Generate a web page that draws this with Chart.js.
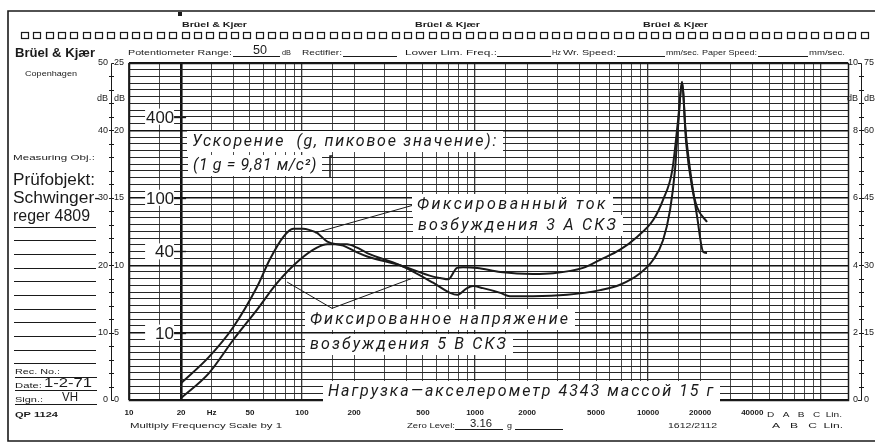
<!DOCTYPE html>
<html lang="ru">
<head>
<meta charset="utf-8">
<title>Schwingerreger 4809</title>
<script src="https://cdn.jsdelivr.net/npm/chart.js"></script>
<style>
  html, body { margin: 0; padding: 0; background: #fff; }
  #chartPaper { display: block; }
</style>
</head>
<body>
<canvas id="chartPaper" width="875" height="447"></canvas>
<script>
// values: frequency in Hz, level in dB (0 dB = 3.16 g)
const currentHz = [20, 29, 40, 55, 65, 78, 89, 101, 111, 122, 140, 173, 208, 238, 368, 572, 628, 700, 787, 853, 1030, 1400, 2160, 2830, 4210, 5280, 6890, 8630, 10700, 12200, 13800, 14900, 15730, 16600, 17950, 19200, 21900];
const currentDb = [2.5, 6.4, 10.8, 16.8, 20.8, 24.2, 25.4, 25.4, 25.2, 24.8, 23.5, 22.9, 21.9, 21.3, 20.0, 18.3, 18.1, 17.9, 19.6, 19.7, 19.6, 19.0, 18.7, 18.8, 19.6, 20.8, 22.3, 24.2, 26.7, 29.7, 34.1, 41.5, 47.0, 38.1, 31.6, 28.6, 26.4];

const voltageHz = [20, 29, 40, 55, 72, 97, 122, 140, 182, 208, 238, 368, 572, 717, 787, 899, 973, 1110, 1400, 1590, 2160, 3400, 5280, 6890, 8990, 10700, 12200, 13400, 14300, 14900, 15730, 16400, 17500, 19200, 20800, 21900];
const voltageDb = [0.3, 4.0, 8.9, 13.4, 17.4, 20.8, 22.6, 23.1, 23.1, 22.6, 21.8, 20.0, 17.4, 15.9, 15.6, 16.6, 16.9, 16.6, 15.9, 15.4, 15.4, 15.6, 16.3, 17.1, 18.8, 20.8, 23.7, 28.2, 34.1, 40.5, 47.2, 40.5, 34.1, 27.2, 22.0, 21.8];

// leader lines of the labels
const currentLeaderHz = [119, 438];
const currentLeaderDb = [24.8, 28.9];
const voltageLeaderHz = [82, 149, 438];
const voltageLeaderDb = [17.5, 13.6, 18.1];

// tick labels
const freqTickValues = [10, 20, 30, 50, 100, 200, 500, 1000, 2000, 5000, 10000, 20000, 40000];
const freqTickTexts = ['10', '20', 'Hz', '50', '100', '200', '500', '1000', '2000', '5000', '10000', '20000', '40000'];
const gridMantissas = [1, 1.5, 2, 3, 4, 5, 6, 7, 8, 9];
const decades = [10, 100, 1000, 10000, 100000];
const dbLabelValues = [50, 40, 30, 20, 10, 0];
const leftOuterTexts = ['50', '40', '30', '20', '10', '0'];
const leftInnerTexts = ['25', '20', '15', '10', '5', '0'];
const rightInnerTexts = ['10', '8', '6', '4', '2', '0'];
const rightOuterTexts = ['75', '60', '45', '30', '15', '0'];
const gTickValues = [400, 100, 40, 10];
const zeroLevelG = 3.16;
const freqMax = 143000;

const gridHz = [];
decades.forEach(d => {
    gridMantissas.forEach(m => {
        const v = m * d;
        if (v <= freqMax) gridHz.push(v);
    });
});

const ink = '#1a1a1a';
const SANS = "'Liberation Sans', 'DejaVu Sans', Arial, sans-serif";
const ITALIC = "italic 16px Roboto, 'Liberation Sans', sans-serif";

function toPoints(xs, ys) {
    return xs.map((x, i) => ({ x: x, y: ys[i] }));
}

// draw text stretched/shrunk to a given width
function fitText(ctx, text, x, y, w, font) {
    ctx.save();
    ctx.font = font;
    ctx.fillStyle = ink;
    ctx.textAlign = 'left';
    ctx.textBaseline = 'alphabetic';
    const m = ctx.measureText(text).width || 1;
    ctx.translate(x, y);
    ctx.scale(w / m, 1);
    ctx.fillText(text, 0, 0);
    ctx.restore();
}

// same, but widen with letter spacing first (typewriter-like labels)
function spacedText(ctx, text, x, y, w, font) {
    ctx.save();
    ctx.font = font;
    ctx.fillStyle = ink;
    ctx.textAlign = 'left';
    ctx.textBaseline = 'alphabetic';
    let m = ctx.measureText(text).width || 1;
    if ('letterSpacing' in ctx) {
        ctx.letterSpacing = ((w - m) / [...text].length).toFixed(2) + 'px';
        m = ctx.measureText(text).width || 1;
    }
    ctx.translate(x, y);
    ctx.scale(w / m, 1);
    ctx.fillText(text, 0, 0);
    ctx.restore();
}

function hline(ctx, x1, x2, y, lw) {
    ctx.lineWidth = lw || 1;
    ctx.beginPath();
    ctx.moveTo(x1, y);
    ctx.lineTo(x2, y);
    ctx.stroke();
}

function boxedLabel(ctx, text, x, y, w) {
    ctx.fillStyle = '#fff';
    ctx.fillRect(x - 5, y - 15, w + 10, 21);
    spacedText(ctx, text, x, y, w, ITALIC);
}

const paperPlugin = {
    id: 'paper',
    beforeDraw(chart) {
        const ctx = chart.ctx;
        const ys = chart.scales.y;
        const W = chart.width;
        ctx.save();
        ctx.fillStyle = '#fff';
        ctx.fillRect(0, 0, W, chart.height);
        ctx.strokeStyle = ink;

        // paper frame
        ctx.lineWidth = 1.6;
        ctx.beginPath();
        ctx.moveTo(W, 11); ctx.lineTo(8, 11); ctx.lineTo(8, 441); ctx.lineTo(W, 441);
        ctx.stroke();
        ctx.fillStyle = ink;
        ctx.fillRect(178, 12, 4, 4);

        // sprocket holes
        ctx.lineWidth = 1.2;
        for (let sx = 25; sx < W - 2; sx += 12.35) {
            ctx.strokeRect(Math.round(sx) - 3.5, 32.5, 7, 6);
        }

        // top header
        [182, 415, 643].forEach(bx => fitText(ctx, 'Brüel & Kjær', bx, 27, 65, 'bold 8px ' + SANS));
        fitText(ctx, 'Brüel & Kjær', 15, 57, 80, 'bold 12px ' + SANS);
        const small = '8px ' + SANS;
        fitText(ctx, 'Potentiometer Range:', 128, 55, 104, small);
        fitText(ctx, '50', 253, 54, 14, '12px ' + SANS);
        hline(ctx, 233, 280, 56.5, 1);
        fitText(ctx, 'dB', 282, 55, 9, small);
        fitText(ctx, 'Rectifier:', 302, 55, 40, small);
        hline(ctx, 343, 397, 56.5, 1);
        fitText(ctx, 'Lower Lim. Freq.:', 405, 55, 92, small);
        hline(ctx, 497, 551, 56.5, 1);
        fitText(ctx, 'Hz', 552, 55, 9, small);
        fitText(ctx, 'Wr. Speed:', 563, 55, 53, small);
        hline(ctx, 617, 665, 56.5, 1);
        fitText(ctx, 'mm/sec.', 666, 55, 33, small);
        fitText(ctx, 'Paper Speed:', 702, 55, 55, small);
        hline(ctx, 758, 808, 56.5, 1);
        fitText(ctx, 'mm/sec.', 809, 55, 36, small);

        // left panel
        fitText(ctx, 'Copenhagen', 25, 76, 52, small);
        fitText(ctx, 'Measuring Obj.:', 13, 160, 82, '7px ' + SANS);
        fitText(ctx, 'Prüfobjekt:', 13, 185, 82, '16px ' + SANS);
        fitText(ctx, 'Schwinger-', 13, 203, 87, '16px ' + SANS);
        fitText(ctx, 'reger 4809', 13, 221, 77, '16px ' + SANS);
        [227, 240, 254, 268, 281, 295, 309, 322, 336, 350, 363].forEach(ly => hline(ctx, 14, 96, ly + 0.5, 1.2));
        fitText(ctx, 'Rec. No.:', 15, 374, 45, small);
        hline(ctx, 15, 97, 377.5, 1);
        fitText(ctx, 'Date:', 15, 388, 27, small);
        fitText(ctx, '1-2-71', 44, 387, 48, '12px ' + SANS);
        hline(ctx, 15, 97, 390.5, 1);
        fitText(ctx, 'Sign.:', 15, 402, 28, small);
        fitText(ctx, 'VH', 62, 401, 16, '12px ' + SANS);
        hline(ctx, 15, 97, 404.5, 1);
        fitText(ctx, 'QP 1124', 15, 417, 43, 'bold 8px ' + SANS);

        // bottom texts
        fitText(ctx, 'Multiply Frequency Scale by 1', 130, 428, 152, small);
        fitText(ctx, 'Zero Level:', 407, 428, 48, small);
        fitText(ctx, zeroLevelG.toFixed(2), 470, 427, 22, '11px ' + SANS);
        hline(ctx, 455, 503, 429.5, 1);
        fitText(ctx, 'g', 507, 428, 5, small);
        hline(ctx, 515, 563, 429.5, 1);
        fitText(ctx, '1612/2112', 668, 428, 49, small);
        fitText(ctx, 'D   A   B   C  Lin.', 767, 417, 75, small);
        fitText(ctx, 'A   B   C  Lin.', 772, 428, 71, small);

        // side scales
        const yTop = ys.getPixelForValue(50);
        const yBot = ys.getPixelForValue(0);
        ctx.lineWidth = 1;
        [[111, 1], [861, -1]].forEach(([sx, dir]) => {
            ctx.beginPath();
            ctx.moveTo(sx + dir * 3, yTop + 0.5); ctx.lineTo(sx + 0.5, yTop + 0.5);
            ctx.lineTo(sx + 0.5, yBot + 0.5); ctx.lineTo(sx + dir * 3, yBot + 0.5);
            ctx.stroke();
            for (let d = 2; d < 50; d += 2) {
                const py = Math.round(ys.getPixelForValue(d)) + 0.5;
                hline(ctx, sx - 2, sx + 3, py, 1);
            }
        });
        ctx.font = '9px ' + SANS;
        ctx.fillStyle = ink;
        ctx.textBaseline = 'middle';
        dbLabelValues.forEach((d, i) => {
            const py = ys.getPixelForValue(d);
            ctx.textAlign = 'right';
            ctx.fillText(leftOuterTexts[i], 108, py);
            ctx.fillText(rightInnerTexts[i], 858, py);
            ctx.textAlign = 'left';
            ctx.fillText(leftInnerTexts[i], 114, py);
            ctx.fillText(rightOuterTexts[i], 864, py);
        });
        ctx.textAlign = 'right';
        ctx.fillText('dB', 108, 99);
        ctx.fillText('dB', 858, 99);
        ctx.textAlign = 'left';
        ctx.fillText('dB', 114, 99);
        ctx.fillText('dB', 864, 99);
        ctx.restore();
    },
    afterDatasetsDraw(chart) {
        const ctx = chart.ctx;
        const xs = chart.scales.x;
        const ys = chart.scales.y;
        const area = chart.chartArea;
        ctx.save();
        ctx.strokeStyle = ink;

        // plot frame
        ctx.lineWidth = 1.5;
        ctx.strokeRect(area.left + 0.5, area.top + 0.5, area.right - area.left, area.bottom - area.top);

        // acceleration scale in g at the 20 Hz line
        const x20 = xs.getPixelForValue(20);
        gTickValues.forEach(g => {
            const py = ys.getPixelForValue(20 * Math.log10(g / zeroLevelG));
            const w = g >= 100 ? 28 : 19;
            ctx.fillStyle = '#fff';
            ctx.fillRect(x20 - 36, py - 8, 29, 16);
            ctx.fillStyle = ink;
            fitText(ctx, String(g), x20 - 7 - w, py + 6, w, '17px ' + SANS);
            hline(ctx, x20 - 7, x20 + 5, Math.round(py) + 0.5, 1.4);
        });

        // annotations
        boxedLabel(ctx, 'Ускорение  (g, пиковое значение):', 192, 146, 306);
        boxedLabel(ctx, '(1 g = 9,81 м/с²)', 193, 170, 124);
        ctx.lineWidth = 1.5;
        ctx.beginPath();
        ctx.moveTo(333, 156); ctx.lineTo(330, 156); ctx.lineTo(330, 178);
        ctx.stroke();
        boxedLabel(ctx, 'Фиксированный ток', 417, 209, 191);
        boxedLabel(ctx, 'возбуждения 3 А СКЗ', 418, 230, 200);
        boxedLabel(ctx, 'Фиксированное напряжение', 310, 324, 260);
        boxedLabel(ctx, 'возбуждения 5 В СКЗ', 310, 349, 198);
        boxedLabel(ctx, 'Нагрузка—акселерометр 4343 массой 15 г', 328, 396, 387);
        ctx.restore();
    }
};

const curveStyle = {
    borderColor: ink,
    borderWidth: 2,
    pointRadius: 0,
    fill: false,
    cubicInterpolationMode: 'monotone'
};

const leaderStyle = {
    borderColor: ink,
    borderWidth: 1,
    pointRadius: 0,
    fill: false,
    tension: 0
};

new Chart(document.getElementById('chartPaper'), {
    type: 'line',
    data: {
        datasets: [
            Object.assign({ label: 'Фиксированный ток возбуждения 3 А СКЗ', data: toPoints(currentHz, currentDb) }, curveStyle),
            Object.assign({ label: 'Фиксированное напряжение возбуждения 5 В СКЗ', data: toPoints(voltageHz, voltageDb) }, curveStyle),
            Object.assign({ label: 'leader current', data: toPoints(currentLeaderHz, currentLeaderDb) }, leaderStyle),
            Object.assign({ label: 'leader voltage', data: toPoints(voltageLeaderHz, voltageLeaderDb) }, leaderStyle)
        ]
    },
    options: {
        responsive: false,
        animation: false,
        events: [],
        layout: { padding: { left: 129, right: 27, top: 63, bottom: 0 } },
        plugins: {
            legend: { display: false },
            tooltip: { enabled: false }
        },
        scales: {
            x: {
                type: 'logarithmic',
                min: 10,
                max: freqMax,
                border: { display: false },
                afterBuildTicks: axis => { axis.ticks = gridHz.map(v => ({ value: v })); },
                afterFit: axis => { axis.height = 47; },
                grid: {
                    drawTicks: false,
                    color: c => (c.tick && c.tick.value === 20) ? '#111' : '#383838',
                    lineWidth: c => {
                        const v = c.tick ? c.tick.value : 0;
                        if (v === 20) return 2.6;
                        return decades.includes(v) ? 1.3 : 0.9;
                    }
                },
                ticks: {
                    autoSkip: false,
                    maxRotation: 0,
                    minRotation: 0,
                    padding: 8,
                    color: ink,
                    font: { family: SANS, size: 8, weight: 'bold' },
                    callback: v => {
                        const i = freqTickValues.indexOf(v);
                        return i < 0 ? '' : freqTickTexts[i];
                    }
                }
            },
            y: {
                type: 'linear',
                min: 0,
                max: 50,
                border: { display: false },
                afterFit: axis => { axis.width = 0; },
                ticks: { display: false, stepSize: 1 },
                grid: {
                    drawTicks: false,
                    color: c => (c.tick && c.tick.value % 10 === 0) ? '#111' : '#262626',
                    lineWidth: c => (c.tick && c.tick.value % 10 === 0) ? 1.4 : 1.1
                }
            }
        }
    },
    plugins: [paperPlugin]
});
</script>
</body>
</html>
